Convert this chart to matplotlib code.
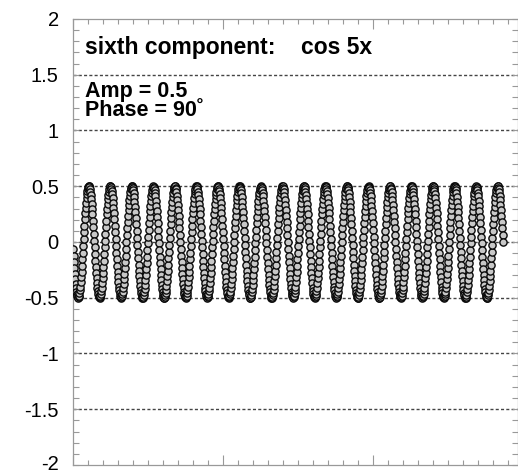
import numpy as np
import matplotlib
matplotlib.use("Agg")
from matplotlib import pyplot as plt
from matplotlib import transforms
from matplotlib.ticker import MultipleLocator, NullFormatter

# sixth Fourier component of the series
harmonic = 5
amp = 0.5
phase_deg = 90
n_samples = 1024         # samples over 4 fundamental periods
x_end = 4 * 2 * np.pi
x = np.arange(1, n_samples + 1) * x_end / n_samples
y = amp * np.cos(harmonic * x + np.deg2rad(phase_deg))

y_ticks = [-2, -1.5, -1, -0.5, 0, 0.5, 1, 1.5, 2]
y_tick_labels = ["-2", "-1.5", "-1", "-0.5", "0", "0.5", "1", "1.5", "2"]

plt.rcParams['font.family'] = ['Liberation Sans', 'DejaVu Sans']

fig = plt.figure(figsize=(5.18, 4.74), dpi=100)
ax = fig.add_axes([0.1403, 0.019, 0.8597, 0.941])

for g in y_ticks[1:-1]:
    ax.axhline(g, color='#444444', linestyle=(0, (2.2, 1.6)), linewidth=1.0, zorder=1)

ax.plot(x, y, linestyle='none', marker='o', markersize=5.2,
        markerfacecolor='#c8c8c8', markeredgecolor='#0a0a0a',
        markeredgewidth=1.0, zorder=3)

# x axis: data ends at 430 px of a 445 px wide box, ticks every 150 px
px_unit = x_end / 430.0
ax.set_xlim(0, 445 * px_unit)
ax.set_ylim(-2, 2)
ax.xaxis.set_major_locator(MultipleLocator(150 * px_unit))
ax.xaxis.set_minor_locator(MultipleLocator(15 * px_unit))
ax.xaxis.set_major_formatter(NullFormatter())
ax.yaxis.set_minor_locator(MultipleLocator(0.1))
ax.set_yticks(y_ticks)
ax.set_yticklabels(y_tick_labels, fontsize=14.5)

ax.tick_params(axis='both', which='both', direction='in', color='#999999',
               top=True, right=True, width=0.8)
ax.tick_params(axis='x', which='major', length=7)
ax.tick_params(axis='x', which='minor', length=3.5)
ax.tick_params(axis='y', which='major', length=4, pad=10)
ax.tick_params(axis='y', which='minor', length=4)

for side in ['left', 'right']:
    ax.spines[side].set_color('#999999')
    ax.spines[side].set_linewidth(0.9)
for side in ['top', 'bottom']:
    ax.spines[side].set_color('#999999')
    ax.spines[side].set_linewidth(0.9)
    ax.spines[side].set_linestyle((0, (2, 1)))

# lowest tick label: sit on its baseline, nudged down so the digits centre on -2
bottom_lbl = ax.get_yticklabels()[0]
bottom_lbl.set_verticalalignment('baseline')
bottom_lbl.set_transform(bottom_lbl.get_transform() +
                         transforms.ScaledTranslation(0, -5 / 100, fig.dpi_scale_trans))

ax.text(0.028, 0.936, "sixth component:    cos 5x", transform=ax.transAxes,
        fontsize=16.5, fontweight='bold', va='center', ha='left')
ax.text(0.028, 0.837, "Amp = 0.5", transform=ax.transAxes,
        fontsize=15.5, fontweight='bold', va='center', ha='left')
ax.text(0.028, 0.794, "Phase = 90\u02da", transform=ax.transAxes,
        fontsize=15.5, fontweight='bold', va='center', ha='left')

fig.savefig("out.png", dpi=100)
